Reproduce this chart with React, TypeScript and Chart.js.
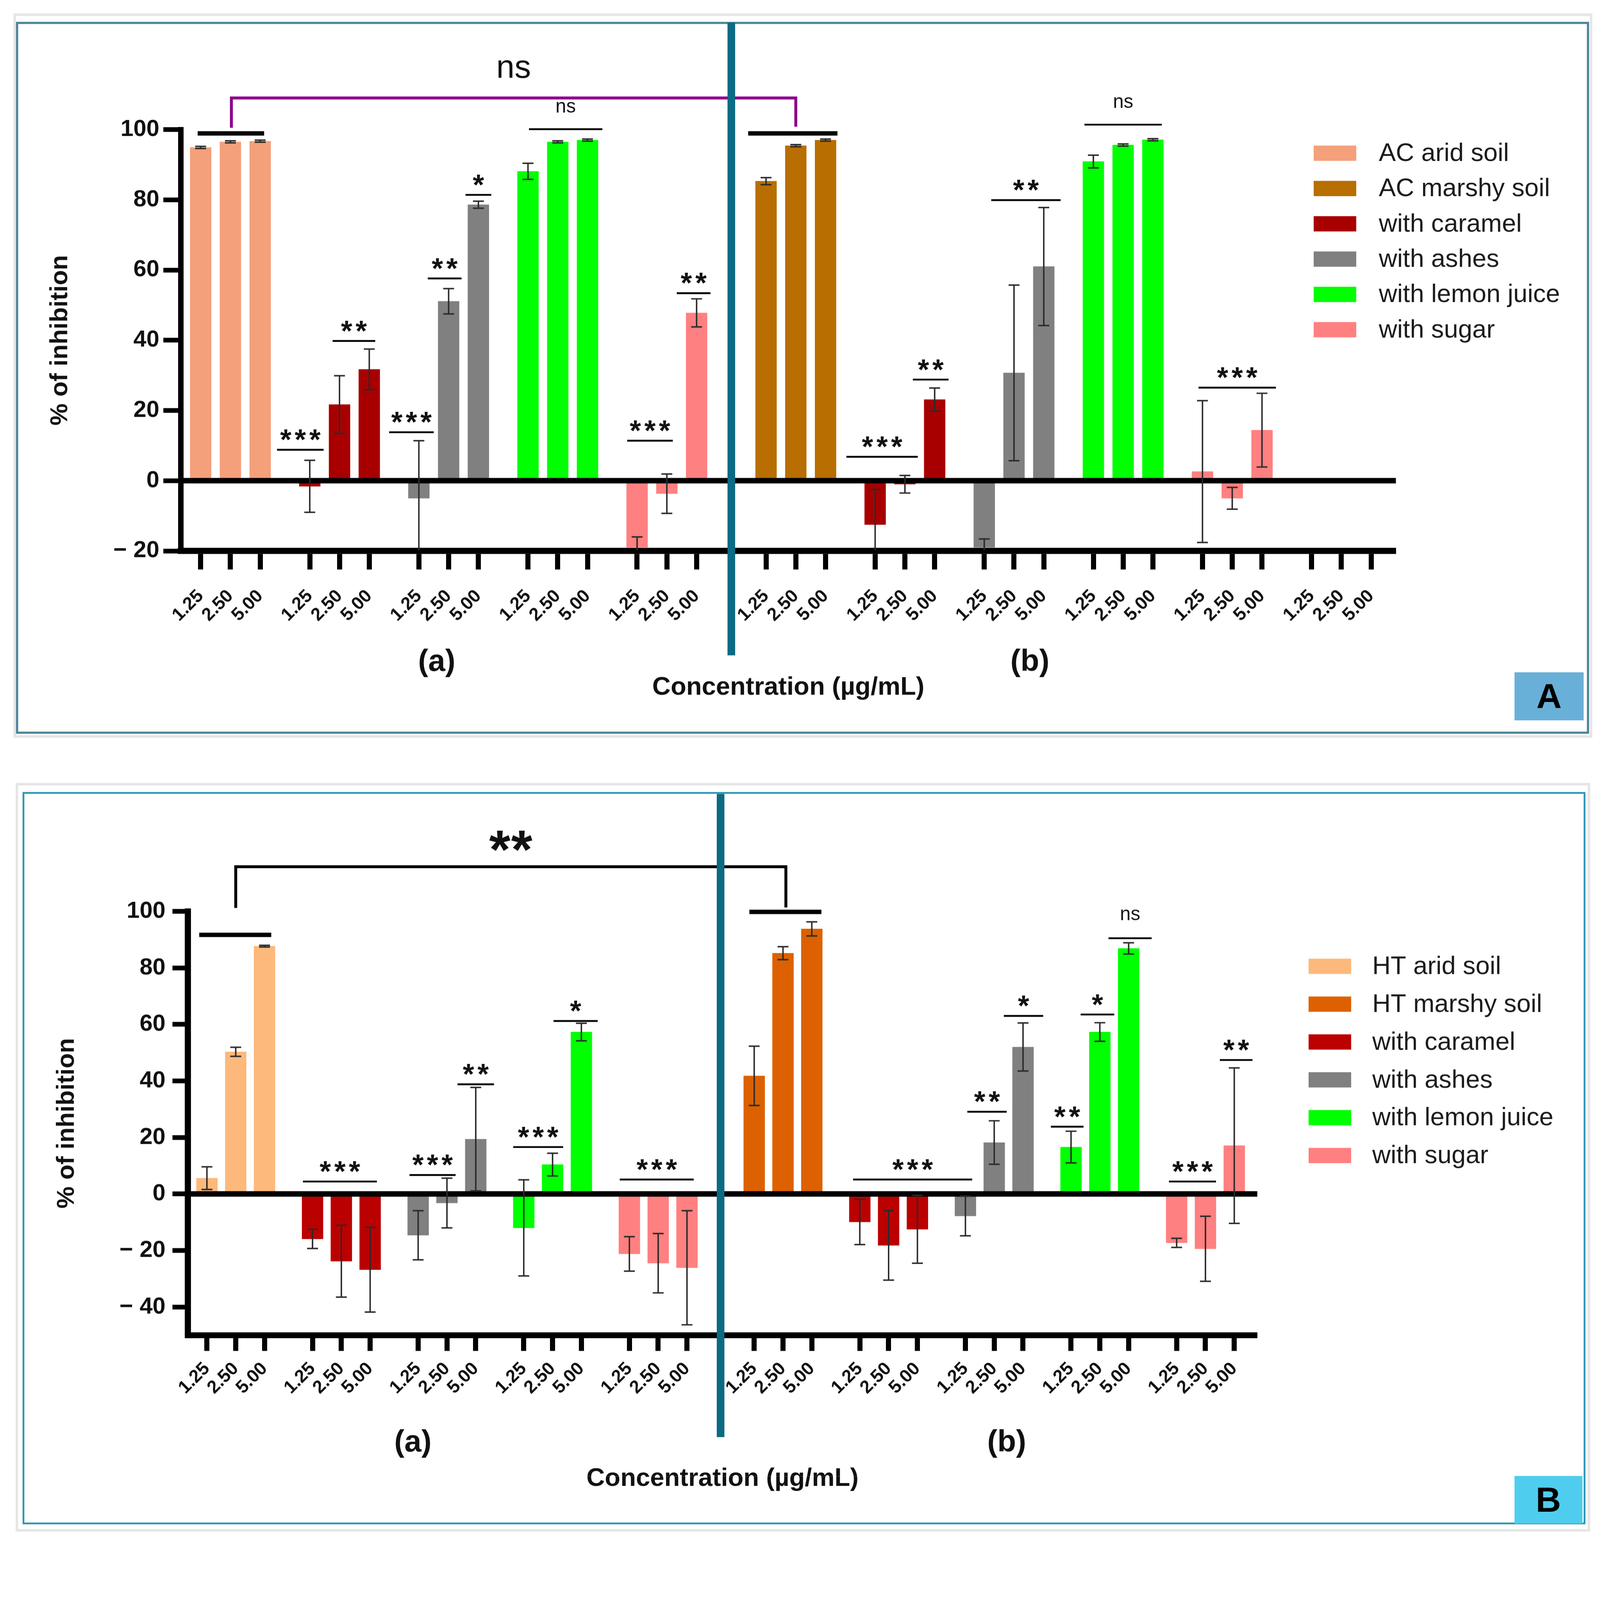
import { useEffect, useRef } from "react";
import { Chart, registerables } from "chart.js";

Chart.register(...registerables);

const FONT = "'Liberation Sans', Arial, Helvetica, sans-serif";
Chart.defaults.font.family = FONT;

// x tick labels (µg/mL)
const concentrations = ["1.25", "2.50", "5.00"];

// ---- Panel A : activated carbon (AC) ----
const acAridSoil = [94.9, 96.5, 96.7];
const acAridSoilSd = [0.3, 0.3, 0.3];
const acAridCaramel = [-1.6, 21.7, 31.7];
const acAridCaramelSd = [7.4, 8.2, 5.8];
const acAridAshes = [-5.0, 51.1, 78.6];
const acAridAshesSd = [16.4, 3.6, 1.0];
const acAridLemon = [88.1, 96.5, 97.0];
const acAridLemonSd = [2.3, 0.3, 0.3];
const acAridSugar = [-19.0, -3.7, 47.8];
const acAridSugarSd = [3.0, 5.6, 4.0];

const acMarshySoil = [85.3, 95.4, 97.0];
const acMarshySoilSd = [1.0, 0.3, 0.3];
const acMarshyCaramel = [-12.5, -1.0, 23.1];
const acMarshyCaramelSd = [10.0, 2.5, 3.3];
const acMarshyAshes = [-19.0, 30.7, 61.0];
const acMarshyAshesSd = [2.4, 25.0, 16.8];
const acMarshyLemon = [90.9, 95.6, 97.1];
const acMarshyLemonSd = [1.8, 0.3, 0.3];
const acMarshySugar = [2.6, -5.0, 14.4];
const acMarshySugarSd = [20.2, 3.1, 10.5];

// ---- Panel B : hydrothermal (HT) ----
const htAridSoil = [5.6, 50.3, 87.7];
const htAridSoilSd = [4.0, 1.6, 0.3];
const htAridCaramel = [-15.9, -23.8, -26.8];
const htAridCaramelSd = [3.4, 12.7, 15.0];
const htAridAshes = [-14.6, -3.2, 19.4];
const htAridAshesSd = [8.7, 8.8, 18.3];
const htAridLemon = [-12.0, 10.4, 57.3];
const htAridLemonSd = [17.0, 4.0, 3.1];
const htAridSugar = [-21.2, -24.5, -26.1];
const htAridSugarSd = [6.1, 10.5, 20.2];

const htMarshySoil = [41.8, 85.2, 93.8];
const htMarshySoilSd = [10.5, 2.3, 2.5];
const htMarshyCaramel = [-9.9, -18.2, -12.5];
const htMarshyCaramelSd = [8.0, 12.3, 12.0];
const htMarshyAshes = [-7.8, 18.2, 52.0];
const htMarshyAshesSd = [7.0, 7.7, 8.5];
const htMarshyLemon = [16.6, 57.3, 86.9];
const htMarshyLemonSd = [5.6, 3.3, 2.0];
const htMarshySugar = [-17.3, -19.4, 17.1];
const htMarshySugarSd = [1.6, 11.5, 27.5];

const yTicksA = [-20, 0, 20, 40, 60, 80, 100];
const yTicksB = [-40, -20, 0, 20, 40, 60, 80, 100];

type Part = { group: number; values: number[]; sd: number[] };
type Series = { label: string; color: string; parts: Part[] };
type Sig = { x1: number; x2: number; y: number; text?: string; heavy?: boolean };
type Bracket = { x1: number; x2: number; y: number; leftEnd: number; rightEnd: number; text: string; color: string };

// groups 0-4 are (a), 5-10 are (b); a wider gap separates the two halves
const groupStart = (g: number) => g * 11 + (g >= 5 ? 2 : 0);

const seriesA: Series[] = [
  { label: "AC arid soil", color: "#f4a07a", parts: [{ group: 0, values: acAridSoil, sd: acAridSoilSd }] },
  { label: "AC marshy soil", color: "#b86e00", parts: [{ group: 5, values: acMarshySoil, sd: acMarshySoilSd }] },
  {
    label: "with caramel",
    color: "#a80000",
    parts: [
      { group: 1, values: acAridCaramel, sd: acAridCaramelSd },
      { group: 6, values: acMarshyCaramel, sd: acMarshyCaramelSd },
    ],
  },
  {
    label: "with ashes",
    color: "#808080",
    parts: [
      { group: 2, values: acAridAshes, sd: acAridAshesSd },
      { group: 7, values: acMarshyAshes, sd: acMarshyAshesSd },
    ],
  },
  {
    label: "with lemon juice",
    color: "#00ff00",
    parts: [
      { group: 3, values: acAridLemon, sd: acAridLemonSd },
      { group: 8, values: acMarshyLemon, sd: acMarshyLemonSd },
    ],
  },
  {
    label: "with sugar",
    color: "#ff8080",
    parts: [
      { group: 4, values: acAridSugar, sd: acAridSugarSd },
      { group: 9, values: acMarshySugar, sd: acMarshySugarSd },
    ],
  },
];

const seriesB: Series[] = [
  { label: "HT arid soil", color: "#fdb97b", parts: [{ group: 0, values: htAridSoil, sd: htAridSoilSd }] },
  { label: "HT marshy soil", color: "#dd6100", parts: [{ group: 5, values: htMarshySoil, sd: htMarshySoilSd }] },
  {
    label: "with caramel",
    color: "#bb0000",
    parts: [
      { group: 1, values: htAridCaramel, sd: htAridCaramelSd },
      { group: 6, values: htMarshyCaramel, sd: htMarshyCaramelSd },
    ],
  },
  {
    label: "with ashes",
    color: "#808080",
    parts: [
      { group: 2, values: htAridAshes, sd: htAridAshesSd },
      { group: 7, values: htMarshyAshes, sd: htMarshyAshesSd },
    ],
  },
  {
    label: "with lemon juice",
    color: "#00ff00",
    parts: [
      { group: 3, values: htAridLemon, sd: htAridLemonSd },
      { group: 8, values: htMarshyLemon, sd: htMarshyLemonSd },
    ],
  },
  {
    label: "with sugar",
    color: "#ff8080",
    parts: [
      { group: 4, values: htAridSugar, sd: htAridSugarSd },
      { group: 9, values: htMarshySugar, sd: htMarshySugarSd },
    ],
  },
];

// significance marks, x in axis units, y in % units
const sigA: Sig[] = [
  { x1: -0.3, x2: 6.4, y: 98.9, heavy: true },
  { x1: 7.7, x2: 12.4, y: 8.8, text: "***" },
  { x1: 13.3, x2: 17.6, y: 39.8, text: "**" },
  { x1: 19.0, x2: 23.5, y: 13.8, text: "***" },
  { x1: 22.9, x2: 26.3, y: 57.6, text: "**" },
  { x1: 26.7, x2: 29.3, y: 81.4, text: "*" },
  { x1: 33.1, x2: 40.5, y: 100.1, text: "ns" },
  { x1: 43.0, x2: 47.6, y: 11.4, text: "***" },
  { x1: 48.0, x2: 51.4, y: 53.4, text: "**" },
  { x1: 55.2, x2: 64.2, y: 98.9, heavy: true },
  { x1: 65.1, x2: 72.3, y: 6.8, text: "***" },
  { x1: 71.8, x2: 75.4, y: 28.8, text: "**" },
  { x1: 79.7, x2: 86.7, y: 79.9, text: "**" },
  { x1: 89.1, x2: 96.9, y: 101.4, text: "ns" },
  { x1: 100.6, x2: 108.4, y: 26.5, text: "***" },
];

const sigB: Sig[] = [
  { x1: -0.8, x2: 6.7, y: 91.7, heavy: true },
  { x1: 10.0, x2: 17.7, y: 4.4, text: "***" },
  { x1: 21.1, x2: 25.9, y: 6.7, text: "***" },
  { x1: 26.1, x2: 29.9, y: 38.8, text: "**" },
  { x1: 31.9, x2: 37.1, y: 16.6, text: "***" },
  { x1: 36.1, x2: 40.7, y: 61.2, text: "*" },
  { x1: 43.0, x2: 50.7, y: 5.1, text: "***" },
  { x1: 56.5, x2: 64.0, y: 99.8, heavy: true },
  { x1: 67.3, x2: 79.7, y: 5.1, text: "***" },
  { x1: 79.2, x2: 83.3, y: 29.1, text: "**" },
  { x1: 83.0, x2: 87.1, y: 63.0, text: "*" },
  { x1: 87.9, x2: 91.3, y: 23.8, text: "**" },
  { x1: 91.0, x2: 94.5, y: 63.5, text: "*" },
  { x1: 93.9, x2: 98.4, y: 90.5, text: "ns" },
  { x1: 100.2, x2: 105.1, y: 4.4, text: "***" },
  { x1: 105.5, x2: 108.9, y: 47.4, text: "**" },
];

const bracketA: Bracket = { x1: 3.1, x2: 60.0, y: 109.0, leftEnd: 100.5, rightEnd: 100.8, text: "ns", color: "#8b008b" };
const bracketB: Bracket = { x1: 3.0, x2: 60.3, y: 115.8, leftEnd: 101.2, rightEnd: 101.4, text: "**", color: "#000000" };

type PanelSpec = {
  series: Series[];
  sig: Sig[];
  bracket: Bracket;
  groups: number;
  yMin: number;
  yMax: number;
  yTicks: number[];
  xMax: number;
  height: number;
  area: { left: number; right: number; top: number; bottom: number };
  xTitleY: number;
  yTitleX: number;
  yTick: { len: number; pad: number };
  xTick: { len: number; pad: number };
  borders: { x: number; y: number };
  legend: { patchX: number; textX: number; firstY: number; step: number };
  halves: { a: number; b: number; y: number };
  divider: { x: number; y1: number; y2: number };
  nsOffset: number;
  bigText: { font: string; offset: number; spacing: number };
};

const WIDTH = 4398;
const HEIGHT = 4240;

function drawSpaced(ctx: CanvasRenderingContext2D, text: string, cx: number, y: number, spacing: number) {
  const c: any = ctx;
  if (spacing && "letterSpacing" in c) {
    c.letterSpacing = `${spacing}px`;
    ctx.fillText(text, cx + spacing / 2, y);
    c.letterSpacing = "0px";
  } else {
    ctx.fillText(text, cx, y);
  }
}

function makeConfig(p: PanelSpec, pixelRatio: number): any {
  const datasets = p.series.map((s) => ({
    label: s.label,
    data: s.parts.flatMap((part) => part.values.map((v, i) => ({ x: groupStart(part.group) + 3 * i, y: v }))),
    sd: s.parts.flatMap((part) => part.sd),
    backgroundColor: s.color,
    borderWidth: 0,
    barThickness: 58,
    grouped: false,
  }));

  const tickValues: number[] = [];
  for (let g = 0; g < p.groups; g++) for (let i = 0; i < 3; i++) tickValues.push(groupStart(g) + 3 * i);

  const decor = {
    id: "decor",
    afterDatasetsDraw(chart: any) {
      const { ctx, chartArea: a } = chart;
      const x = chart.scales.x;
      const y = chart.scales.y;
      ctx.save();
      // zero line
      ctx.strokeStyle = "#000";
      ctx.lineWidth = 15;
      const y0 = y.getPixelForValue(0);
      ctx.beginPath();
      ctx.moveTo(a.left, y0);
      ctx.lineTo(a.right, y0);
      ctx.stroke();
      // error bars, clipped to the plot
      ctx.beginPath();
      ctx.rect(a.left, a.top - 2, a.right - a.left, a.bottom - a.top);
      ctx.clip();
      ctx.strokeStyle = "#2b2b2b";
      ctx.lineWidth = 4;
      chart.data.datasets.forEach((ds: any, di: number) => {
        const meta = chart.getDatasetMeta(di);
        meta.data.forEach((_bar: any, j: number) => {
          const v = ds.data[j].y;
          const e = ds.sd[j];
          const cx = x.getPixelForValue(ds.data[j].x);
          const yt = y.getPixelForValue(v + e);
          const yb = y.getPixelForValue(v - e);
          ctx.beginPath();
          ctx.moveTo(cx, yt);
          ctx.lineTo(cx, yb);
          ctx.moveTo(cx - 15, yt);
          ctx.lineTo(cx + 15, yt);
          ctx.moveTo(cx - 15, yb);
          ctx.lineTo(cx + 15, yb);
          ctx.stroke();
        });
      });
      ctx.restore();
    },
    afterDraw(chart: any) {
      const { ctx } = chart;
      const x = chart.scales.x;
      const y = chart.scales.y;
      ctx.save();
      ctx.textAlign = "center";
      ctx.fillStyle = "#111";
      ctx.lineCap = "butt";

      // significance lines and marks
      p.sig.forEach((s) => {
        const px1 = x.getPixelForValue(s.x1);
        const px2 = x.getPixelForValue(s.x2);
        const py = y.getPixelForValue(s.y);
        ctx.lineWidth = s.heavy ? 12 : 5;
        ctx.strokeStyle = "#000";
        ctx.beginPath();
        ctx.moveTo(px1, py);
        ctx.lineTo(px2, py);
        ctx.stroke();
        if (!s.text) return;
        const cx = (px1 + px2) / 2;
        ctx.textBaseline = "alphabetic";
        if (s.text === "ns") {
          ctx.font = `53px ${FONT}`;
          ctx.fillText("ns", cx, py - p.nsOffset);
        } else {
          ctx.font = `bold 80px ${FONT}`;
          drawSpaced(ctx, s.text, cx, py - 1, 9);
        }
      });

      // bracket comparing the two soils
      const b = p.bracket;
      const bx1 = x.getPixelForValue(b.x1);
      const bx2 = x.getPixelForValue(b.x2);
      const by = y.getPixelForValue(b.y);
      ctx.strokeStyle = b.color;
      ctx.lineWidth = 8;
      ctx.lineJoin = "miter";
      ctx.beginPath();
      ctx.moveTo(bx1, y.getPixelForValue(b.leftEnd));
      ctx.lineTo(bx1, by);
      ctx.lineTo(bx2, by);
      ctx.lineTo(bx2, y.getPixelForValue(b.rightEnd));
      ctx.stroke();
      ctx.fillStyle = "#111";
      ctx.font = p.bigText.font;
      ctx.textBaseline = "alphabetic";
      drawSpaced(ctx, b.text, (bx1 + bx2) / 2, by - p.bigText.offset, p.bigText.spacing);

      // (a) / (b)
      ctx.font = `bold 84px ${FONT}`;
      ctx.textBaseline = "middle";
      ctx.fillText("(a)", x.getPixelForValue(p.halves.a), p.halves.y);
      ctx.fillText("(b)", x.getPixelForValue(p.halves.b), p.halves.y);

      // legend
      ctx.textAlign = "left";
      ctx.font = `70px ${FONT}`;
      chart.data.datasets.forEach((ds: any, i: number) => {
        const cy = p.legend.firstY + i * p.legend.step;
        ctx.fillStyle = ds.backgroundColor;
        ctx.fillRect(p.legend.patchX, cy - 21, 117, 42);
        ctx.fillStyle = "#1c1c1c";
        ctx.fillText(ds.label, p.legend.textX, cy + 2);
      });

      // divider between (a) and (b)
      ctx.strokeStyle = "#0b6a84";
      ctx.lineWidth = 21;
      const dx = x.getPixelForValue(p.divider.x);
      ctx.beginPath();
      ctx.moveTo(dx, p.divider.y1);
      ctx.lineTo(dx, p.divider.y2);
      ctx.stroke();
      ctx.restore();
    },
  };

  const xHeight = p.xTitleY + 42 - p.area.bottom;

  return {
    type: "bar",
    data: { datasets },
    options: {
      animation: false,
      responsive: false,
      devicePixelRatio: pixelRatio,
      layout: {
        padding: {
          left: 0,
          top: p.area.top,
          right: WIDTH - p.area.right,
          bottom: p.height - p.area.bottom - xHeight,
        },
      },
      plugins: { legend: { display: false }, tooltip: { enabled: false } },
      scales: {
        x: {
          type: "linear",
          offset: false,
          min: -2,
          max: p.xMax,
          afterBuildTicks: (s: any) => {
            s.ticks = tickValues.map((v) => ({ value: v }));
          },
          afterFit: (s: any) => {
            s.height = xHeight;
          },
          border: { display: true, color: "#000", width: p.borders.x },
          grid: {
            display: true,
            offset: false,
            drawOnChartArea: false,
            drawTicks: true,
            tickLength: p.xTick.len,
            tickWidth: 14,
            tickColor: "#000",
          },
          ticks: {
            autoSkip: false,
            minRotation: 45,
            maxRotation: 45,
            padding: p.xTick.pad,
            color: "#111",
            font: { size: 50, weight: "bold" },
            callback: (_v: any, i: number) => concentrations[i % 3],
          },
          title: {
            display: true,
            text: "Concentration (µg/mL)",
            color: "#111",
            font: { size: 70, weight: "bold" },
            padding: { top: 0, bottom: 0 },
          },
        },
        y: {
          type: "linear",
          min: p.yMin,
          max: p.yMax,
          afterBuildTicks: (s: any) => {
            s.ticks = p.yTicks.map((v) => ({ value: v }));
          },
          afterFit: (s: any) => {
            s.width = p.area.left;
          },
          border: { display: true, color: "#000", width: p.borders.y },
          grid: { display: true, drawOnChartArea: false, drawTicks: true, tickLength: p.yTick.len, tickWidth: 13, tickColor: "#000" },
          ticks: {
            padding: p.yTick.pad,
            color: "#111",
            font: { size: 64, weight: "bold" },
            callback: (v: number) => (v < 0 ? `− ${Math.abs(v)}` : String(v)),
          },
          title: {
            display: true,
            text: "% of inhibition",
            color: "#111",
            font: { size: 68, weight: "bold" },
            padding: { top: p.yTitleX - 41, bottom: 0 },
          },
        },
      },
    },
    plugins: [decor],
  };
}

const panelA: PanelSpec = {
  series: seriesA,
  sig: sigA,
  bracket: bracketA,
  groups: 11,
  yMin: -20,
  yMax: 100,
  yTicks: yTicksA,
  xMax: 120.5,
  height: 2090,
  area: { left: 497, right: 3837, top: 356, bottom: 1514 },
  xTitleY: 1890,
  yTitleX: 166,
  yTick: { len: 48, pad: 11 },
  xTick: { len: 51, pad: 44 },
  borders: { x: 17, y: 15 },
  legend: { patchX: 3611, textX: 3790, firstY: 421, step: 97 },
  halves: { a: 23.8, b: 83.6, y: 1820 },
  divider: { x: 53.5, y1: 62, y2: 1801 },
  nsOffset: 46,
  bigText: { font: `90px ${FONT}`, offset: 56, spacing: 0 },
};

const TOP_B = 2090;
const panelB: PanelSpec = {
  series: seriesB,
  sig: sigB,
  bracket: bracketB,
  groups: 10,
  yMin: -50,
  yMax: 100,
  yTicks: yTicksB,
  xMax: 109.4,
  height: 2150,
  area: { left: 516, right: 3456, top: 2505 - TOP_B, bottom: 3670 - TOP_B },
  xTitleY: 4065 - TOP_B,
  yTitleX: 184,
  yTick: { len: 42, pad: 19 },
  xTick: { len: 43, pad: 20 },
  borders: { x: 16, y: 17 },
  legend: { patchX: 3597, textX: 3772, firstY: 2656 - TOP_B, step: 104 },
  halves: { a: 21.45, b: 83.3, y: 3966 - TOP_B },
  divider: { x: 53.5, y1: 2182 - TOP_B, y2: 3950 - TOP_B },
  nsOffset: 50,
  bigText: { font: `bold 150px ${FONT}`, offset: -4, spacing: 2 },
};

function PanelChart({ spec, top, pixelRatio }: { spec: PanelSpec; top: number; pixelRatio: number }) {
  const canvasRef = useRef<HTMLCanvasElement | null>(null);

  useEffect(() => {
    if (!canvasRef.current) return;
    const chart = new Chart(canvasRef.current, makeConfig(spec, pixelRatio));
    return () => chart.destroy();
  }, [spec, pixelRatio]);

  return (
    <canvas
      ref={canvasRef}
      width={WIDTH}
      height={spec.height}
      style={{ position: "absolute", left: 0, top, width: WIDTH, height: spec.height }}
    />
  );
}

function Frame({ l, t, r, b, w, color }: { l: number; t: number; r: number; b: number; w: number; color: string }) {
  return (
    <div
      style={{
        position: "absolute",
        left: l,
        top: t,
        width: r - l,
        height: b - t,
        border: `${w}px solid ${color}`,
        boxSizing: "border-box",
      }}
    />
  );
}

function Tag({ text, l, t, w, h, bg }: { text: string; l: number; t: number; w: number; h: number; bg: string }) {
  return (
    <div
      style={{
        position: "absolute",
        left: l,
        top: t,
        width: w,
        height: h,
        background: bg,
        display: "flex",
        alignItems: "center",
        justifyContent: "center",
        fontFamily: FONT,
        fontWeight: "bold",
        fontSize: 96,
        color: "#000",
      }}
    >
      {text}
    </div>
  );
}

export default function App() {
  // fit the 4398 px wide figure to whatever CSS viewport the browser reports
  const fit = typeof window !== "undefined" && window.innerWidth > 0 ? window.innerWidth / WIDTH : 1;
  const dpr = typeof window !== "undefined" ? window.devicePixelRatio || 1 : 1;
  const pixelRatio = dpr * fit;

  return (
    <div
      style={{
        position: "fixed",
        left: 0,
        top: 0,
        width: WIDTH,
        height: HEIGHT,
        background: "#fff",
        overflow: "hidden",
        transform: `scale(${fit})`,
        transformOrigin: "0 0",
      }}
    >
      <Frame l={37} t={37} r={4377} b={2028} w={7} color="#e6e6e6" />
      <Frame l={44} t={60} r={4368} b={2017} w={6} color="#4e8599" />
      <Frame l={43} t={2152} r={4371} b={4210} w={7} color="#e6e6e6" />
      <Frame l={62} t={2177} r={4358} b={4190} w={5} color="#3096b6" />
      <PanelChart spec={panelA} top={0} pixelRatio={pixelRatio} />
      <PanelChart spec={panelB} top={TOP_B} pixelRatio={pixelRatio} />
      <Tag text="A" l={4163} t={1848} w={190} h={132} bg="#69b0d8" />
      <Tag text="B" l={4163} t={4057} w={186} h={130} bg="#4fcdee" />
    </div>
  );
}
